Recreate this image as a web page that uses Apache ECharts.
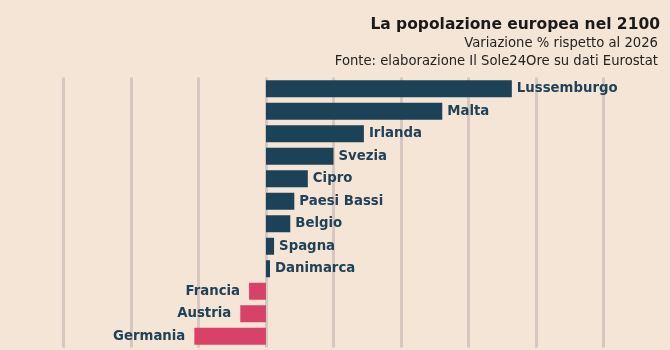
<!DOCTYPE html>
<html><head><meta charset="utf-8">
<script src="https://cdn.jsdelivr.net/npm/echarts@6/dist/echarts.min.js"></script>
<style>html,body{margin:0;padding:0;background:#f5e5d6;}#c{width:670px;height:350px;}</style>
</head><body><div id="c"></div>
<script>
const countries = ['Lussemburgo','Malta','Irlanda','Svezia','Cipro','Paesi Bassi','Belgio','Spagna','Danimarca','Francia','Austria','Germania'];
const values = [36.4, 26.1, 14.5, 10.0, 6.2, 4.2, 3.6, 1.2, 0.6, -2.5, -3.8, -10.6];
const titleText = 'La popolazione europea nel 2100';
const subLine1 = 'Variazione % rispetto al 2026';
const subLine2 = 'Fonte: elaborazione Il Sole24Ore su dati Eurostat';

const POS = '#1c4257', NEG = '#d94268', LBL = '#1f4258';
const chart = echarts.init(document.getElementById('c'));
chart.setOption({
  backgroundColor: '#f5e5d6',
  animation: false,
  textStyle: {fontFamily: 'DejaVu Sans'},
  title: [
    {text: titleText, right: 5, top: 12, textStyle: {fontFamily:'DejaVu Sans', fontSize: 15.5, fontWeight: 'bold', color: '#1a1a1a'}},
    {text: subLine1, right: 7, top: 32, textStyle: {fontFamily:'DejaVu Sans', fontSize: 13.2, fontWeight: 'normal', color: '#222'}},
    {text: subLine2, right: 7, top: 50, textStyle: {fontFamily:'DejaVu Sans', fontSize: 13.2, fontWeight: 'normal', color: '#222'}}
  ],
  grid: {left: 63.3, right: 66.3, top: 77.5, bottom: 2.5, containLabel: false},
  xAxis: {
    type: 'value', min: -30, max: 50, interval: 10,
    axisLine: {show: false}, axisTick: {show: false}, axisLabel: {show: false},
    splitLine: {show: true, showMinLine: true, showMaxLine: true, lineStyle: {color: '#d6c8c0', width: 3}}
  },
  yAxis: {
    type: 'category', data: countries, inverse: true,
    axisLine: {show: false}, axisTick: {show: false}, axisLabel: {show: false}, splitLine: {show: false}
  },
  series: [{
    type: 'bar', barWidth: 17,
    data: values.map((v, i) => ({
      value: v,
      itemStyle: {color: v >= 0 ? POS : NEG},
      label: {show: true, position: v >= 0 ? 'right' : 'left', distance: v >= 0 ? 5 : 9, formatter: countries[i],
              color: LBL, fontWeight: 'bold', fontSize: 13.3, fontFamily: 'DejaVu Sans'}
    }))
  }]
});
</script></body></html>
